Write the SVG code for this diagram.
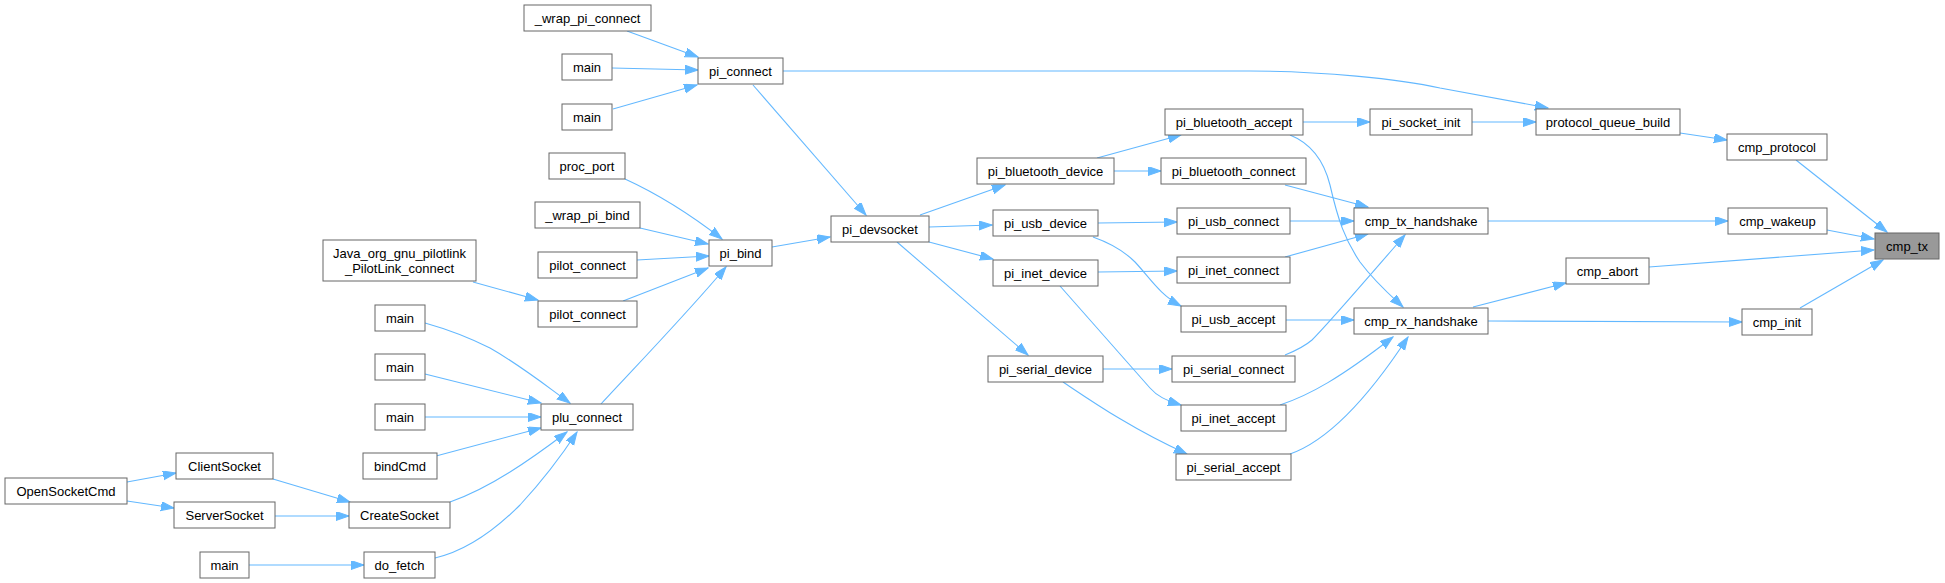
<svg xmlns="http://www.w3.org/2000/svg" width="1945" height="583" viewBox="0 0 1945 583">
<style>
.n rect{fill:#fff;stroke:#666;stroke-width:1}
.n text{font-family:"Liberation Sans",Arial,sans-serif;font-size:13px;text-anchor:middle;fill:#000}
#cmp_tx rect{fill:#999}
.e path{fill:none;stroke:#63b8ff;stroke-width:1.1;marker-end:url(#a)}
</style>
<defs>
<marker id="a" markerWidth="14" markerHeight="10" refX="13" refY="4.5" orient="auto" markerUnits="userSpaceOnUse">
<path d="M0,0 L13,4.5 L0,9 z" fill="#63b8ff" stroke="#63b8ff" stroke-width="1"/>
</marker>
</defs>
<rect width="1945" height="583" fill="#fff"/>
<g class="e">
<path d="M627,31 L698,57"/>
<path d="M612,68 L698,70"/>
<path d="M613,109 L697,85"/>
<path d="M753,85 L866,215"/>
<path d="M783,71 L1250,71 C1320,71 1400,79 1440,88 L1548,108"/>
<path d="M625,179 C660,195 695,218 722,239"/>
<path d="M640,228 L708,244"/>
<path d="M637,260 L709,256"/>
<path d="M623,301 L708,268"/>
<path d="M473,282 L538,300"/>
<path d="M601,404 C640,362 690,310 726,267"/>
<path d="M425,323 C450,330 470,338 490,348 C520,365 545,385 570,403"/>
<path d="M425,374 L541,403"/>
<path d="M425,417 L541,417"/>
<path d="M436,456 L541,428"/>
<path d="M450,502 C490,488 530,460 567,432"/>
<path d="M435,558 C470,550 500,525 520,505 C545,478 562,455 577,432"/>
<path d="M273,479 L350,502"/>
<path d="M275,516 L349,516"/>
<path d="M127,482 L176,473"/>
<path d="M127,501 L174,508"/>
<path d="M249,565 L364,565"/>
<path d="M772,247 L830,237"/>
<path d="M920,215 L1005,185"/>
<path d="M929,227 L992,225"/>
<path d="M929,242 L993,259"/>
<path d="M897,242 L1028,355"/>
<path d="M1097,158 L1181,135"/>
<path d="M1114,171 L1161,171"/>
<path d="M1098,223 L1177,222"/>
<path d="M1093,237 C1110,243 1125,252 1135,262 C1150,278 1160,295 1181,306"/>
<path d="M1098,272 L1177,271"/>
<path d="M1060,286 L1150,388 C1157,396 1165,400 1181,405"/>
<path d="M1103,369 L1172,369"/>
<path d="M1063,382 C1090,400 1130,428 1187,454"/>
<path d="M1303,122 L1370,122"/>
<path d="M1290,135 C1315,145 1325,165 1330,185 C1338,220 1345,240 1360,262 C1375,282 1390,295 1403,307"/>
<path d="M1285,185 L1368,207"/>
<path d="M1290,221 L1354,221"/>
<path d="M1285,257 L1368,234"/>
<path d="M1285,355 C1295,351 1305,346 1312,340 C1330,322 1370,275 1405,235"/>
<path d="M1286,320 L1354,320"/>
<path d="M1280,405 C1310,395 1340,378 1393,337"/>
<path d="M1290,454 C1330,440 1370,395 1408,337"/>
<path d="M1472,122 L1536,122"/>
<path d="M1680,133 L1727,140"/>
<path d="M1796,160 L1887,232"/>
<path d="M1488,221 L1728,221"/>
<path d="M1827,230 L1874,239"/>
<path d="M1649,267 L1874,250"/>
<path d="M1473,307 L1566,283"/>
<path d="M1488,321 L1742,322"/>
<path d="M1800,308 L1883,260"/>
</g>
<g id="wrap_pi_connect" class="n"><rect x="524" y="5" width="127" height="26"/><text x="587.5" y="22.5">_wrap_pi_connect</text></g>
<g id="main_a" class="n"><rect x="562" y="54" width="50" height="26"/><text x="587" y="71.5">main</text></g>
<g id="main_b" class="n"><rect x="562" y="104" width="50" height="26"/><text x="587" y="121.5">main</text></g>
<g id="pi_connect" class="n"><rect x="698" y="58" width="85" height="26"/><text x="740.5" y="75.5">pi_connect</text></g>
<g id="proc_port" class="n"><rect x="549" y="153" width="76" height="26"/><text x="587" y="170.5">proc_port</text></g>
<g id="wrap_pi_bind" class="n"><rect x="535" y="202" width="105" height="26"/><text x="587.5" y="219.5">_wrap_pi_bind</text></g>
<g id="pilot_connect1" class="n"><rect x="538" y="252" width="99" height="26"/><text x="587.5" y="269.5">pilot_connect</text></g>
<g id="java" class="n"><rect x="323" y="240" width="153" height="41"/><text x="399.5" y="258">Java_org_gnu_pilotlink</text><text x="399.5" y="273">_PilotLink_connect</text></g>
<g id="pilot_connect2" class="n"><rect x="538" y="301" width="99" height="26"/><text x="587.5" y="318.5">pilot_connect</text></g>
<g id="pi_bind" class="n"><rect x="709" y="240" width="63" height="26"/><text x="740.5" y="257.5">pi_bind</text></g>
<g id="plu_connect" class="n"><rect x="541" y="404" width="92" height="26"/><text x="587" y="421.5">plu_connect</text></g>
<g id="main_c" class="n"><rect x="375" y="305" width="50" height="26"/><text x="400" y="322.5">main</text></g>
<g id="main_d" class="n"><rect x="375" y="354" width="50" height="26"/><text x="400" y="371.5">main</text></g>
<g id="main_e" class="n"><rect x="375" y="404" width="50" height="26"/><text x="400" y="421.5">main</text></g>
<g id="bindCmd" class="n"><rect x="363" y="453" width="74" height="26"/><text x="400" y="470.5">bindCmd</text></g>
<g id="ClientSocket" class="n"><rect x="176" y="453" width="97" height="26"/><text x="224.5" y="470.5">ClientSocket</text></g>
<g id="OpenSocketCmd" class="n"><rect x="5" y="478" width="122" height="26"/><text x="66" y="495.5">OpenSocketCmd</text></g>
<g id="ServerSocket" class="n"><rect x="174" y="502" width="101" height="26"/><text x="224.5" y="519.5">ServerSocket</text></g>
<g id="CreateSocket" class="n"><rect x="349" y="502" width="101" height="26"/><text x="399.5" y="519.5">CreateSocket</text></g>
<g id="main_f" class="n"><rect x="200" y="552" width="49" height="26"/><text x="224.5" y="569.5">main</text></g>
<g id="do_fetch" class="n"><rect x="364" y="552" width="71" height="26"/><text x="399.5" y="569.5">do_fetch</text></g>
<g id="pi_devsocket" class="n"><rect x="831" y="216" width="98" height="26"/><text x="880" y="233.5">pi_devsocket</text></g>
<g id="pi_bluetooth_device" class="n"><rect x="977" y="158" width="137" height="26"/><text x="1045.5" y="175.5">pi_bluetooth_device</text></g>
<g id="pi_usb_device" class="n"><rect x="993" y="210" width="105" height="26"/><text x="1045.5" y="227.5">pi_usb_device</text></g>
<g id="pi_inet_device" class="n"><rect x="993" y="260" width="105" height="26"/><text x="1045.5" y="277.5">pi_inet_device</text></g>
<g id="pi_serial_device" class="n"><rect x="988" y="356" width="115" height="26"/><text x="1045.5" y="373.5">pi_serial_device</text></g>
<g id="pi_bluetooth_accept" class="n"><rect x="1165" y="109" width="138" height="26"/><text x="1234" y="126.5">pi_bluetooth_accept</text></g>
<g id="pi_bluetooth_connect" class="n"><rect x="1161" y="158" width="145" height="26"/><text x="1233.5" y="175.5">pi_bluetooth_connect</text></g>
<g id="pi_usb_connect" class="n"><rect x="1177" y="208" width="113" height="26"/><text x="1233.5" y="225.5">pi_usb_connect</text></g>
<g id="pi_inet_connect" class="n"><rect x="1177" y="257" width="113" height="26"/><text x="1233.5" y="274.5">pi_inet_connect</text></g>
<g id="pi_usb_accept" class="n"><rect x="1181" y="306" width="105" height="26"/><text x="1233.5" y="323.5">pi_usb_accept</text></g>
<g id="pi_serial_connect" class="n"><rect x="1172" y="356" width="123" height="26"/><text x="1233.5" y="373.5">pi_serial_connect</text></g>
<g id="pi_inet_accept" class="n"><rect x="1181" y="405" width="105" height="26"/><text x="1233.5" y="422.5">pi_inet_accept</text></g>
<g id="pi_serial_accept" class="n"><rect x="1176" y="454" width="115" height="26"/><text x="1233.5" y="471.5">pi_serial_accept</text></g>
<g id="pi_socket_init" class="n"><rect x="1370" y="109" width="102" height="26"/><text x="1421" y="126.5">pi_socket_init</text></g>
<g id="cmp_tx_handshake" class="n"><rect x="1354" y="208" width="134" height="26"/><text x="1421" y="225.5">cmp_tx_handshake</text></g>
<g id="cmp_rx_handshake" class="n"><rect x="1354" y="308" width="134" height="26"/><text x="1421" y="325.5">cmp_rx_handshake</text></g>
<g id="protocol_queue_build" class="n"><rect x="1536" y="109" width="144" height="26"/><text x="1608" y="126.5">protocol_queue_build</text></g>
<g id="cmp_protocol" class="n"><rect x="1727" y="134" width="100" height="26"/><text x="1777" y="151.5">cmp_protocol</text></g>
<g id="cmp_wakeup" class="n"><rect x="1728" y="208" width="99" height="26"/><text x="1777.5" y="225.5">cmp_wakeup</text></g>
<g id="cmp_abort" class="n"><rect x="1566" y="258" width="83" height="26"/><text x="1607.5" y="275.5">cmp_abort</text></g>
<g id="cmp_init" class="n"><rect x="1742" y="309" width="70" height="26"/><text x="1777" y="326.5">cmp_init</text></g>
<g id="cmp_tx" class="n"><rect x="1875" y="233" width="64" height="26"/><text x="1907" y="250.5">cmp_tx</text></g>
</svg>
